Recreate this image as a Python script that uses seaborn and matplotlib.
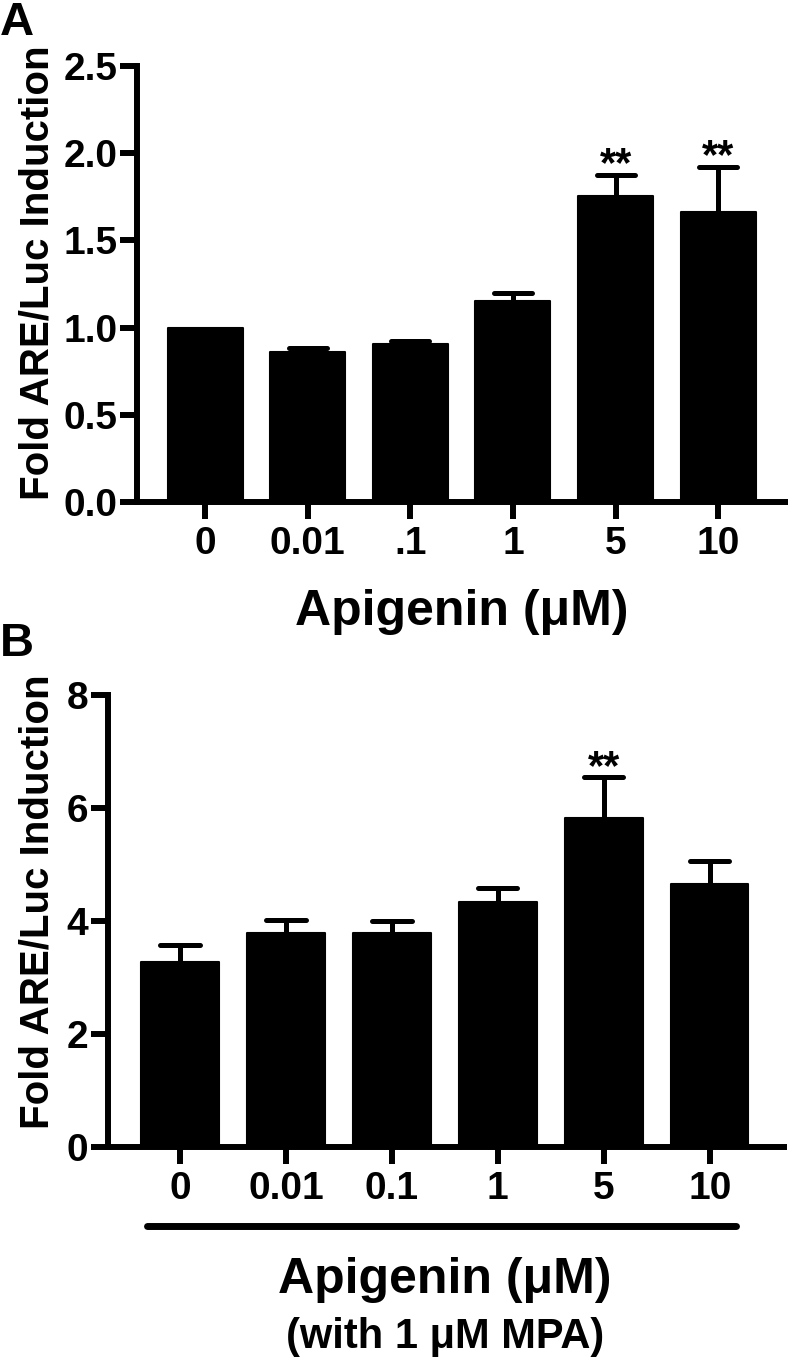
import matplotlib
matplotlib.use('Agg')
import matplotlib.pyplot as plt
import matplotlib.transforms as mtransforms
import seaborn as sns
import pandas as pd

# ---------------- data ----------------
doses_a = ['0', '0.01', '.1', '1', '5', '10']
fold_a = [1.00, 0.86, 0.905, 1.155, 1.755, 1.66]
sem_a = [0.0, 0.025, 0.02, 0.045, 0.12, 0.26]
sig_a = ['', '', '', '', '**', '**']

doses_b = ['0', '0.01', '0.1', '1', '5', '10']
fold_b = [3.28, 3.78, 3.79, 4.33, 5.83, 4.66]
sem_b = [0.30, 0.24, 0.21, 0.26, 0.71, 0.41]
sig_b = ['', '', '', '', '**', '']

yticks_a = [0.0, 0.5, 1.0, 1.5, 2.0, 2.5]
yticklabels_a = ['0.0', '0.5', '1.0', '1.5', '2.0', '2.5']
yticks_b = [0, 2, 4, 6, 8]
yticklabels_b = ['0', '2', '4', '6', '8']

ylabel_text = 'Fold ARE/Luc Induction'
xlabel_a = 'Apigenin (\u03bcM)'
xlabel_b = 'Apigenin (\u03bcM)'
xlabel_b2 = '(with 1 \u03bcM MPA)'

# ---------------- style ----------------
sns.set_theme(style='ticks')
plt.rcParams['font.family'] = ['Liberation Sans', 'DejaVu Sans']
plt.rcParams['font.weight'] = 'bold'

W, H = 788, 1361
fig = plt.figure(figsize=(W / 100, H / 100), dpi=100)


def px_axes(left, top, right, bottom):
    return fig.add_axes([left / W, 1 - bottom / H, (right - left) / W, (bottom - top) / H])


def draw_panel(ax, doses, fold, sem, sig, ylim, yticks, yticklabels, xlim):
    df = pd.DataFrame({'dose': doses, 'fold': fold})
    sns.barplot(data=df, x='dose', y='fold', order=doses, color='black',
                saturation=1, width=0.73, errorbar=None, ax=ax,
                edgecolor='black', linewidth=1.5)
    for p in ax.patches:
        p.set_joinstyle('round')
    for i, (m, e) in enumerate(zip(fold, sem)):
        if e > 0:
            vl = ax.vlines(i, m, m + e, colors='black', linewidth=3.6)
            vl.set_capstyle('butt')
            hl = ax.hlines(m + e, i - 0.185, i + 0.185, colors='black', linewidth=3.6)
            hl.set_capstyle('round')
        if sig[i]:
            ax.annotate(sig[i], xy=(i, m + e), xytext=(0, -1),
                        textcoords='offset points', ha='center', va='baseline',
                        fontsize=30, fontweight='bold', color='black')
    ax.set_xlim(*xlim)
    ax.set_ylim(*ylim)
    ax.set_yticks(yticks)
    ax.set_yticklabels(yticklabels)
    sns.despine(ax=ax)
    for s in ('left', 'bottom'):
        ax.spines[s].set_linewidth(4.3)
        ax.spines[s].set_color('black')
    ax.tick_params(axis='both', length=12, width=4.3, color='black',
                   labelsize=28, labelcolor='black')
    ax.tick_params(axis='y', pad=2)
    ax.tick_params(axis='x', pad=5)
    for lab in ax.get_xticklabels() + ax.get_yticklabels():
        lab.set_fontweight('bold')
    ax.set_facecolor('white')


axA = px_axes(137, 66, 788, 502)
axB = px_axes(108, 695, 784, 1147)

draw_panel(axA, doses_a, fold_a, sem_a, sig_a, (0, 2.5), yticks_a, yticklabels_a, (-0.663, 5.68))
draw_panel(axB, doses_b, fold_b, sem_b, sig_b, (0, 8), yticks_b, yticklabels_b, (-0.679, 5.70))

# y labels
for ax, xc, yc in ((axA, -0.1536, 0.527), (axB, -0.105, 0.542)):
    ax.set_ylabel(ylabel_text, fontsize=29, fontweight='bold', color='black', va='center')
    ax.yaxis.set_label_coords(xc, yc)

# x labels
blendA = mtransforms.blended_transform_factory(axA.transData, axA.transAxes)
axA.set_xlabel(xlabel_a, fontsize=36, fontweight='bold', color='black', va='center')
axA.xaxis.set_label_coords(2.5, -0.252, transform=blendA)

blendB = mtransforms.blended_transform_factory(axB.transData, axB.transAxes)
axB.set_xlabel(xlabel_b, fontsize=36, fontweight='bold', color='black', va='center')
axB.xaxis.set_label_coords(2.5, -0.294, transform=blendB)
axB.text(2.5, -0.420, xlabel_b2, transform=blendB, fontsize=30, fontweight='bold',
         ha='center', va='center', color='black')
axB.plot([-0.31, 5.25], [-0.175, -0.175], transform=blendB, color='black',
         linewidth=5, solid_capstyle='round', clip_on=False)

# panel letters
fig.text(0.0, 1 - 23 / H, 'A', fontsize=34, fontweight='bold', ha='left', va='center', color='black')
fig.text(0.0, 1 - 644 / H, 'B', fontsize=34, fontweight='bold', ha='left', va='center', color='black')

fig.savefig('out.png', dpi=100, facecolor='white')
